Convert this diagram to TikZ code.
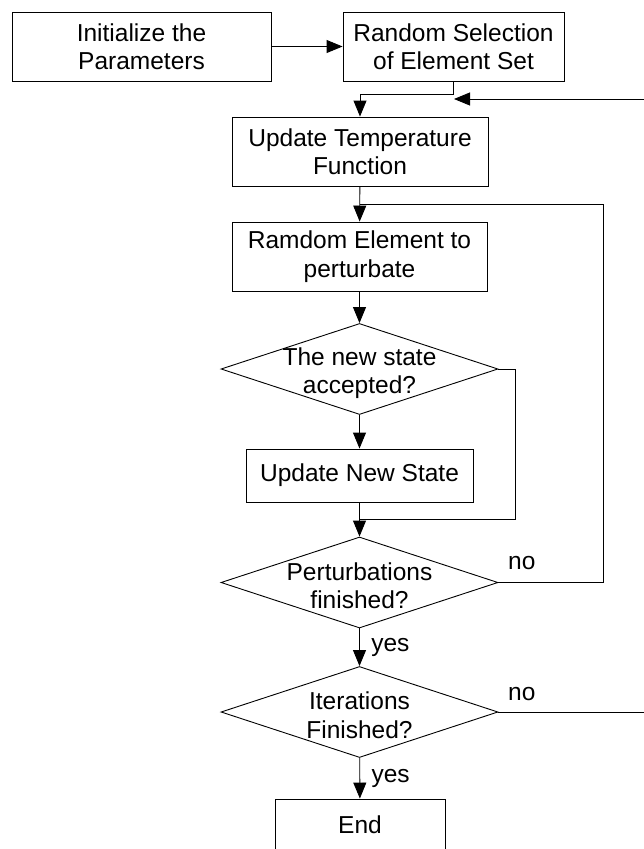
\documentclass[tikz,border=0pt]{standalone}
\usepackage{fontspec}
\setmainfont{Liberation Sans}
\usetikzlibrary{shapes.geometric,arrows.meta,calc}

\begin{document}
\begin{tikzpicture}[x=1pt,y=-1pt,line width=0.9pt,
    font=\fontsize{24.5}{28.5}\selectfont,
    box/.style={rectangle,draw,align=center,inner sep=0pt,minimum height=69pt},
    decision/.style={diamond,draw,inner sep=0pt,minimum width=277pt,minimum height=91pt},
    arr/.style={-{Triangle[width=13pt,length=16pt]}}]

      \useasboundingbox (0,0) rectangle (644,849);
      \clip (0,0) rectangle (644,849);

      % boxes
      \node[box,minimum width=259pt] (init) at (141.5,46.5) {Initialize the\\Parameters};
      \node[box,minimum width=221pt] (sel)  at (453.5,46.5) {Random Selection\\of Element Set};
      \node[box,minimum width=256pt] (temp) at (360,151.5)  {Update Temperature\\Function};
      \node[box,minimum width=255pt] (elem) at (359.5,256.5) {Ramdom Element to\\perturbate};
      \node[box,minimum width=227pt,minimum height=53pt] (upd) at (359.5,475.5) {Update New State};
      \node[box,minimum width=170pt,minimum height=52pt] (fin)  at (360,825) {End};

      % decisions
      \node[decision,label={[align=center,yshift=-4pt]center:The new state\\accepted?}] (accept) at (359.5,369) {};
      \node[decision,label={[align=center,yshift=-3pt]center:Perturbations\\finished?}] (pert) at (359.5,582.5) {};
      \node[decision,label={[align=center,yshift=-3pt]center:Iterations\\Finished?}] (iter) at (359.5,712) {};

      \coordinate (j1) at ($(temp.south)!0.5!(elem.north)$);
      \coordinate (j2) at ($(upd.south)!0.5!(pert.north)$);
      \coordinate (back) at (454,99);

      \draw[arr] (init) -- (sel);
      \draw[arr] (sel.south) -- ++(0,13) -| (temp.north);
      \draw[arr] (temp) -- (elem);
      \draw[arr] (elem) -- (accept);
      \draw[arr] (accept) -- (upd);
      \draw[arr] (upd) -- (pert);
      \draw[arr] (pert) -- node[right,xshift=8pt] {yes} (iter);
      \draw[arr] (iter) -- node[right,xshift=8pt] {yes} (fin);

      % loops
      \draw (accept.east) -- ++(17,0) |- (j2);
      \draw (pert.east) -- node[pos=0,anchor=south west,xshift=6pt,yshift=9pt] {no} ++(105,0) |- (j1);
      \draw[arr] (iter.east) -- node[pos=0,anchor=south west,xshift=6pt,yshift=7pt] {no} ++(155,0) |- (back);

    \end{tikzpicture}
\end{document}
